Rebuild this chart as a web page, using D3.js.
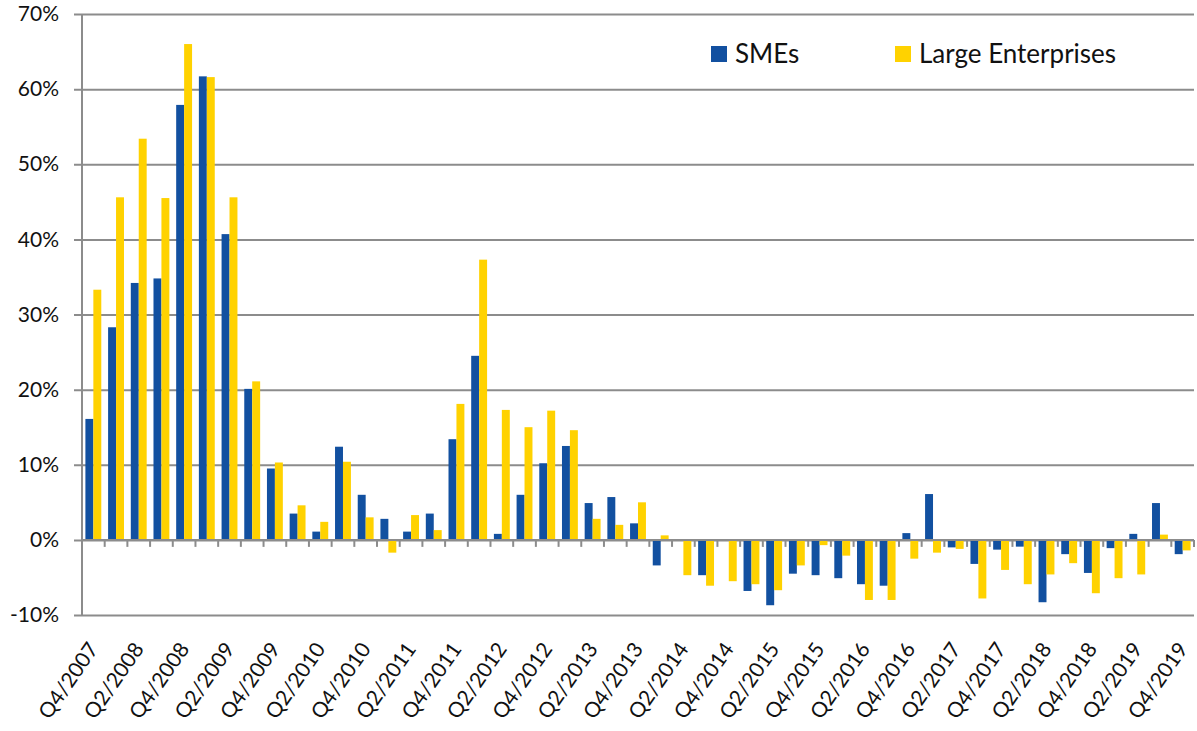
<!DOCTYPE html>
<html>
<head>
<meta charset="utf-8">
<script src="https://cdn.jsdelivr.net/npm/d3@7"></script>
<style>
  body { margin: 0; background: #fff; }
  text { font-family: Lato, "DejaVu Sans", sans-serif; fill: #111; }
</style>
</head>
<body>
<div id="viz"></div>
<script>
const quarters = [
  "Q4/2007",
  "Q1/2008", "Q2/2008", "Q3/2008", "Q4/2008",
  "Q1/2009", "Q2/2009", "Q3/2009", "Q4/2009",
  "Q1/2010", "Q2/2010", "Q3/2010", "Q4/2010",
  "Q1/2011", "Q2/2011", "Q3/2011", "Q4/2011",
  "Q1/2012", "Q2/2012", "Q3/2012", "Q4/2012",
  "Q1/2013", "Q2/2013", "Q3/2013", "Q4/2013",
  "Q1/2014", "Q2/2014", "Q3/2014", "Q4/2014",
  "Q1/2015", "Q2/2015", "Q3/2015", "Q4/2015",
  "Q1/2016", "Q2/2016", "Q3/2016", "Q4/2016",
  "Q1/2017", "Q2/2017", "Q3/2017", "Q4/2017",
  "Q1/2018", "Q2/2018", "Q3/2018", "Q4/2018",
  "Q1/2019", "Q2/2019", "Q3/2019", "Q4/2019"
];

const smes = [
  16.1,
  28.3, 34.2, 34.8, 57.9,
  61.7, 40.7, 20.1, 9.5,
  3.5, 1.1, 12.4, 6.0,
  2.8, 1.1, 3.5, 13.4,
  24.5, 0.8, 6.0, 10.2,
  12.5, 4.9, 5.7, 2.2,
  -3.4, -0.1, -4.7, -0.1,
  -6.8, -8.7, -4.5, -4.7,
  -5.1, -5.9, -6.1, 0.9,
  6.1, -1.0, -3.2, -1.3,
  -0.9, -8.3, -1.9, -4.4,
  -1.1, 0.8, 4.9, -1.9
];

const large = [
  33.3,
  45.6, 53.4, 45.5, 66.0,
  61.6, 45.6, 21.1, 10.3,
  4.6, 2.4, 10.4, 3.0,
  -1.7, 3.3, 1.3, 18.1,
  37.3, 17.3, 15.0, 17.2,
  14.6, 2.8, 2.0, 5.0,
  0.6, -4.7, -6.1, -5.5,
  -5.9, -6.7, -3.4, -0.7,
  -2.1, -8.0, -8.0, -2.5,
  -1.7, -1.2, -7.8, -4.0,
  -5.9, -4.6, -3.1, -7.1,
  -5.1, -4.6, 0.7, -1.4
];

const yTicks = [-10, 0, 10, 20, 30, 40, 50, 60, 70];
const seriesNames = ["SMEs", "Large Enterprises"];
const colors = ["#1250a0", "#ffd200"];

const width = 1197;
const height = 731;
const plotLeft = 82, plotRight = 1194, plotTop = 14, plotBottom = 615;

const svg = d3.select("#viz").append("svg")
  .attr("width", width)
  .attr("height", height);

const x = d3.scaleBand()
  .domain(d3.range(quarters.length))
  .range([plotLeft, plotRight])
  .paddingInner(0.3)
  .paddingOuter(0.15);

const xSub = d3.scaleBand()
  .domain([0, 1])
  .range([0, x.bandwidth()]);

const y = d3.scaleLinear()
  .domain([-10, 70])
  .range([plotBottom, plotTop]);

// gridlines
svg.append("g")
  .attr("transform", `translate(${plotRight},0)`)
  .call(d3.axisLeft(y).tickValues(yTicks).tickSize(plotRight - plotLeft + 8).tickFormat(""))
  .call(g => {
    g.select(".domain").remove();
    g.selectAll("line").attr("stroke", "#8c8c8c").attr("stroke-width", 2);
  });

// y labels
svg.append("g")
  .attr("transform", `translate(${plotLeft - 8},0)`)
  .call(d3.axisLeft(y).tickValues(yTicks).tickSize(0).tickPadding(15).tickFormat(d => d + "%"))
  .call(g => {
    g.select(".domain").remove();
    g.selectAll("text").style("font-size", "21px").attr("fill", "#111");
  });

// left axis line
svg.append("line")
  .attr("x1", plotLeft).attr("x2", plotLeft)
  .attr("y1", plotTop).attr("y2", plotBottom)
  .attr("stroke", "#8c8c8c").attr("stroke-width", 2);

// bars
const groups = svg.append("g").selectAll("g")
  .data(quarters.map((q, i) => ({ i, vals: [smes[i], large[i]] })))
  .join("g")
  .attr("transform", d => `translate(${x(d.i)},0)`);

groups.selectAll("rect")
  .data(d => d.vals.map((v, k) => ({ k, v })))
  .join("rect")
  .attr("x", d => xSub(d.k))
  .attr("width", xSub.bandwidth())
  .attr("y", d => y(Math.max(0, d.v)))
  .attr("height", d => Math.abs(y(d.v) - y(0)))
  .attr("fill", d => colors[d.k]);

// zero line ticks at category boundaries
const step = x.step();
svg.append("g").selectAll("line")
  .data(d3.range(1, quarters.length + 1))
  .join("line")
  .attr("x1", i => plotLeft + i * step)
  .attr("x2", i => plotLeft + i * step)
  .attr("y1", y(0))
  .attr("y2", y(0) + 7)
  .attr("stroke", "#8c8c8c")
  .attr("stroke-width", 2);

svg.append("line")
  .attr("x1", plotLeft).attr("x2", plotRight)
  .attr("y1", y(0)).attr("y2", y(0))
  .attr("stroke", "#8c8c8c").attr("stroke-width", 2);

// x labels (every other quarter)
svg.append("g").selectAll("text")
  .data(quarters.map((q, i) => ({ q, i })).filter(d => d.i % 2 === 0))
  .join("text")
  .attr("transform", d => `translate(${x(d.i) + x.bandwidth() / 2 + 6},${plotBottom + 34}) rotate(-55)`)
  .attr("text-anchor", "end")
  .style("font-size", "21px")
  .text(d => d.q);

// legend
const legend = svg.append("g");
const legendX = [711, 895];
seriesNames.forEach((name, k) => {
  legend.append("rect")
    .attr("x", legendX[k]).attr("y", 46)
    .attr("width", 16).attr("height", 16)
    .attr("fill", colors[k]);
  legend.append("text")
    .attr("x", legendX[k] + 24).attr("y", 54)
    .attr("dy", "0.36em")
    .style("font-size", "26px")
    .text(name);
});
</script>
</body>
</html>
